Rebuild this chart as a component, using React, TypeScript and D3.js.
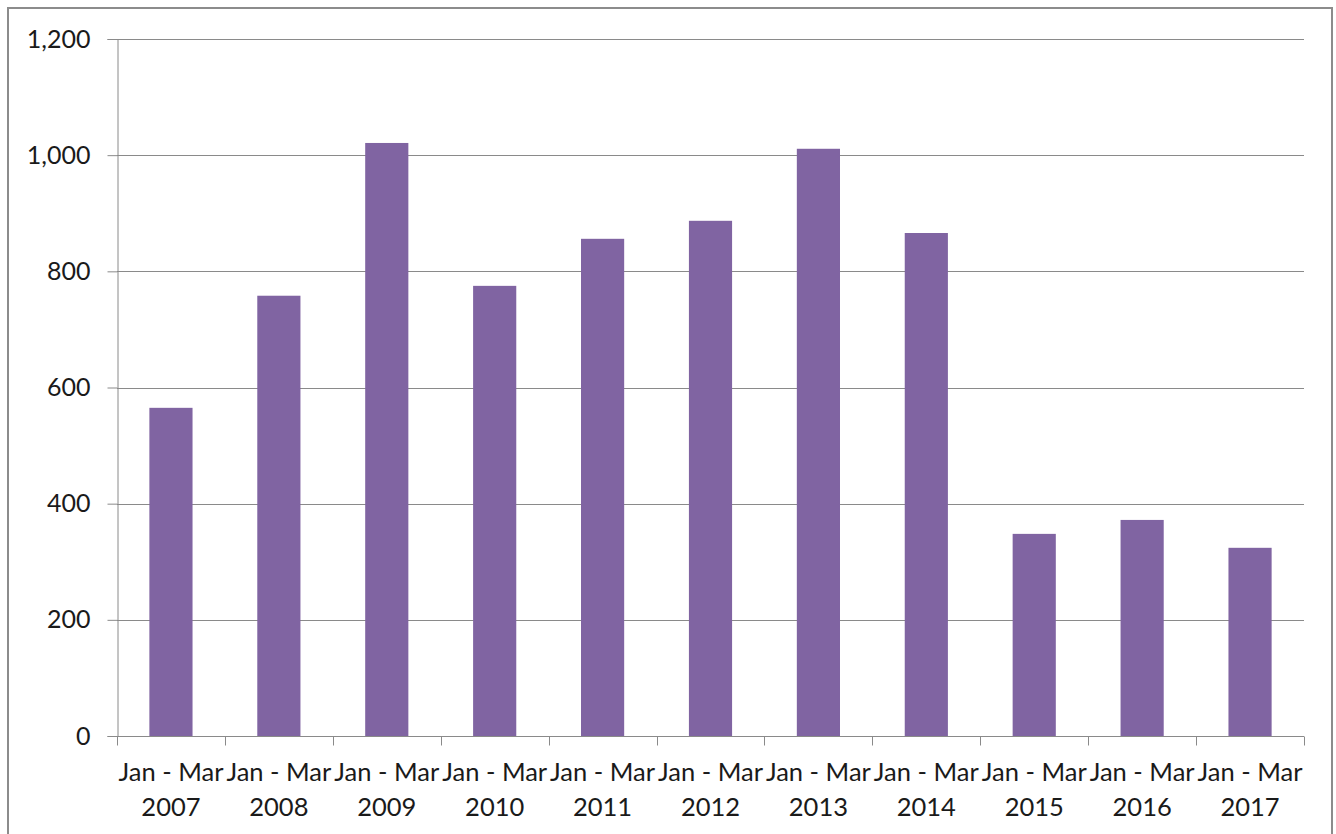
import React, { useEffect, useRef } from "react";
import * as d3 from "d3";

const periods = ["Jan - Mar", "Jan - Mar", "Jan - Mar", "Jan - Mar", "Jan - Mar", "Jan - Mar", "Jan - Mar", "Jan - Mar", "Jan - Mar", "Jan - Mar", "Jan - Mar"];
const years = ["2007", "2008", "2009", "2010", "2011", "2012", "2013", "2014", "2015", "2016", "2017"];
const values = [565, 758, 1021, 775, 856, 887, 1011, 866, 348, 372, 324];
const yTicks = [0, 200, 400, 600, 800, 1000, 1200];

function App() {
  const ref = useRef<SVGSVGElement | null>(null);

  useEffect(() => {
    const width = 1336;
    const height = 834;
    const margin = { top: 39, right: 32, bottom: 98, left: 117 };
    const font = "Lato, 'Open Sans', sans-serif";

    const svg = d3.select(ref.current);
    svg.selectAll("*").remove();

    // outer frame
    svg.append("rect")
      .attr("x", 8).attr("y", 8)
      .attr("width", 1324).attr("height", 900)
      .attr("fill", "white")
      .attr("stroke", "#8c8c8c").attr("stroke-width", 2);

    const x = d3.scaleBand<number>()
      .domain(years.map((_, i) => i))
      .range([margin.left, width - margin.right])
      .paddingInner(0.6)
      .paddingOuter(0.3);
    const y = d3.scaleLinear().domain([0, 1200]).range([height - margin.bottom, margin.top]);

    // gridlines
    svg.append("g")
      .selectAll("line")
      .data(yTicks.filter((d) => d > 0))
      .enter()
      .append("line")
      .attr("x1", margin.left).attr("x2", width - margin.right)
      .attr("y1", (d) => Math.round(y(d)) + 0.5).attr("y2", (d) => Math.round(y(d)) + 0.5)
      .attr("stroke", "#8a8a8a").attr("stroke-width", 1);

    // bars
    svg.append("g")
      .selectAll("rect")
      .data(values)
      .enter()
      .append("rect")
      .attr("x", (_, i) => x(i)!)
      .attr("y", (d) => y(d))
      .attr("width", x.bandwidth())
      .attr("height", (d) => y(0) - y(d))
      .attr("fill", "#8064A2");

    // y axis
    const yAxis = svg.append("g")
      .attr("transform", `translate(${margin.left + 0.5},0)`)
      .call(d3.axisLeft(y).tickValues(yTicks).tickSize(10).tickPadding(17).tickFormat(d3.format(",")));
    yAxis.select(".domain").attr("stroke", "#8a8a8a");
    yAxis.selectAll(".tick line").attr("stroke", "#8a8a8a");
    yAxis.selectAll("text")
      .attr("font-family", font).attr("font-size", 25).attr("fill", "#1a1a1a");

    // x axis with boundary ticks
    const step = x.step();
    const base = Math.round(y(0)) + 0.5;
    svg.append("line")
      .attr("x1", margin.left).attr("x2", width - margin.right)
      .attr("y1", base).attr("y2", base)
      .attr("stroke", "#8a8a8a");
    svg.append("g")
      .selectAll("line")
      .data(d3.range(years.length + 1))
      .enter()
      .append("line")
      .attr("x1", (i) => Math.round(margin.left + i * step) + 0.5)
      .attr("x2", (i) => Math.round(margin.left + i * step) + 0.5)
      .attr("y1", base).attr("y2", base + 9)
      .attr("stroke", "#8a8a8a");

    const labels = svg.append("g")
      .selectAll("text")
      .data(years)
      .enter()
      .append("text")
      .attr("x", (_, i) => x(i)! + x.bandwidth() / 2)
      .attr("text-anchor", "middle")
      .attr("font-family", font).attr("font-size", 25.5).attr("fill", "#1a1a1a");
    labels.append("tspan")
      .attr("x", (_, i) => x(i)! + x.bandwidth() / 2)
      .attr("y", 781)
      .text((_, i) => periods[i]);
    labels.append("tspan")
      .attr("x", (_, i) => x(i)! + x.bandwidth() / 2)
      .attr("y", 816)
      .text((d) => d);
  }, []);

  return (
    <div style={{ position: "absolute", left: 0, top: 0 }}>
      <svg ref={ref} width={1336} height={834} style={{ display: "block", background: "white" }}></svg>
    </div>
  );
}

export default App;
